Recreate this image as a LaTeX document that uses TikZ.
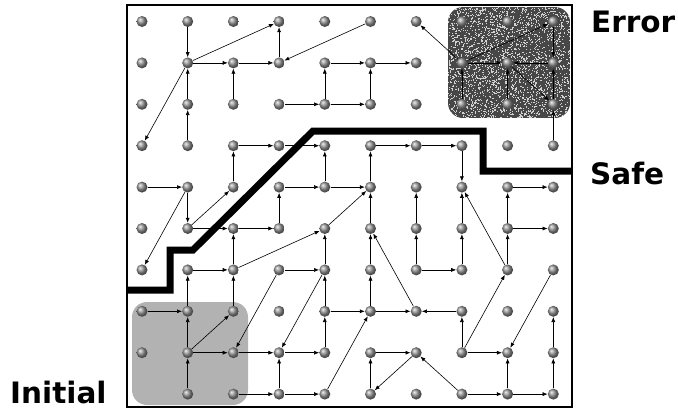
\documentclass[tikz,border=0pt]{standalone}
\usepackage{fontspec}
\setmainfont{DejaVu Sans}
\usetikzlibrary{arrows.meta}
\begin{document}
\begin{tikzpicture}[x=1pt,y=-1pt,
  dot/.style={circle,inner sep=0pt,minimum size=11pt,shading=ball,ball color=gray!85},
  edge/.style={line width=0.6pt,-{Latex[length=5pt,width=4pt]}},
  lbl/.style={font=\fontsize{29.5}{32}\selectfont\bfseries,inner sep=0pt},
  region/.style={rounded corners=15pt},
  barrier/.style={line width=7pt,line join=miter}]
\useasboundingbox (0,0) rectangle (678,410);
% initial region
\fill[gray!60, region] (132,302) rectangle (248,405);
% error region (noisy texture)
\begin{scope}
  \clip[region] (448,7) rectangle (570,118);
  \fill[black!72] (448,7) rectangle (570,118);
  \pgfmathsetseed{7}
  \foreach \i in {1,...,2600}{
    \pgfmathsetmacro\px{448+122*rnd}
    \pgfmathsetmacro\py{7+111*rnd}
    \fill[gray!35] (\px,\py) rectangle ++(1.1,1.1);
  }
\end{scope}
% barrier line
\draw[barrier] (127,290) -- (170,290) -- (170,250) -- (193,250) -- (313,131) -- (483,131) -- (483,171) -- (572,171);
% grid of states
\foreach \c in {0,...,9}{
  \foreach \r in {0,...,9}{
    \ifnum\c\r=9 \else
      \node[dot] (n\c\r) at ({142+45.7*\c},{21.5+41.4*\r}) {};
    \fi
  }
}
% transitions
\foreach \a/\b in {10/11,11/30,31/30,11/21,21/31,50/31,22/21,12/11,13/12,11/03,
  32/42,42/41,41/51,42/52,52/51,51/61,71/60,71/90,71/81,91/81,90/91,92/91,81/92,
  72/71,82/81,93/92,23/33,33/43,24/23,44/43,04/14,14/15,15/24,14/06,15/25,25/35,
  35/34,34/44,44/54,26/25,26/45,46/45,45/54,53/63,63/73,73/74,54/53,55/54,65/64,
  75/74,84/94,85/84,85/95,56/55,67/55,66/65,76/75,86/85,86/74,16/26,17/16,27/26,
  07/17,18/17,18/27,18/28,19/18,36/28,36/46,28/38,46/38,47/46,47/57,39/38,38/48,
  48/47,29/39,39/49,49/57,57/56,57/67,77/67,66/76,78/77,78/86,78/88,96/88,98/97,
  99/98,89/88,79/89,89/99,58/68,59/58,68/59,79/68}
  \draw[edge] (n\a) -- (n\b);
% frame
\draw[line width=1.3pt] (127,5) rectangle (572,407);
% labels
\node[lbl, anchor=base west] (lerr) at (591,32) {Error};
\node[lbl, anchor=base west] (lsafe) at (590,184) {Safe};
\node[lbl, anchor=base west] (linit) at (10,403) {Initial};
\end{tikzpicture}
\end{document}
